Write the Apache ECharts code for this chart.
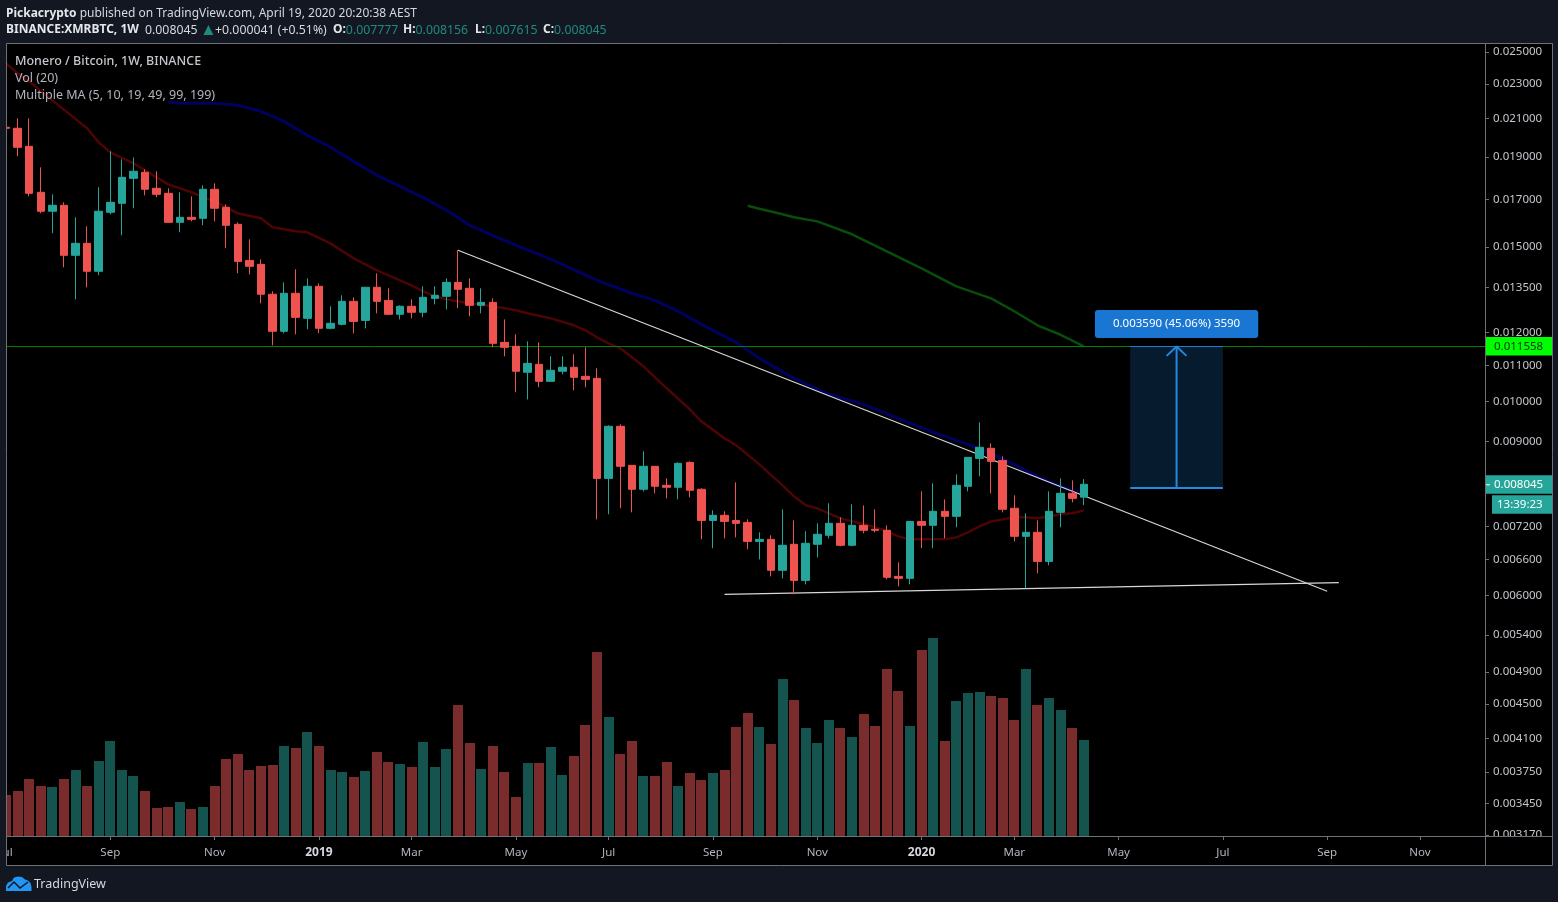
<!DOCTYPE html>
<html>
<head>
<meta charset="utf-8">
<title>XMRBTC 1W</title>
<style>
html, body { margin: 0; padding: 0; background: #131722; }
#main { width: 1558px; height: 902px; }
</style>
<script src="https://cdn.jsdelivr.net/npm/echarts@6/dist/echarts.min.js"></script>
</head>
<body>
<div id="main"></div>
<script>
// weekly bars, first one is cut off by the left edge of the pane
var firstBar = '2018-07-02';

var opens = [
  0.020528,0.020474,0.019531,0.017317,0.016478,0.016737,0.014682,0.015150,0.014080,0.016435,
  0.016823,0.017960,0.018248,0.017499,0.017271,0.016006,0.016219,0.016175,0.017454,0.016651,
  0.015924,0.014487,0.014339,0.013256,0.012029,0.013291,0.012445,0.013536,0.012124,0.012251,
  0.013012,0.012378,0.013501,0.013045,0.012578,0.012845,0.012645,0.013115,0.013186,0.013677,
  0.013466,0.012878,0.012978,0.011685,0.011564,0.010802,0.011030,0.010547,0.010831,0.010945,
  0.010688,0.010631,0.008171,0.009372,0.008457,0.007940,0.008435,0.008023,0.007982,0.008523,
  0.007940,0.007314,0.007413,0.007314,0.007276,0.006920,0.006957,0.006411,0.006867,0.006242,
  0.006867,0.007032,0.007258,0.006849,0.007220,0.007145,0.007126,0.006309,0.006276,0.007295,
  0.007220,0.007492,0.007393,0.008003,0.008613,0.008845,0.008567,0.007552,0.007013,0.007088,
  0.006564,0.007472,0.007856,0.007777
];
var closes = [
  0.020474,0.019481,0.017271,0.016478,0.016737,0.014682,0.015150,0.014080,0.016478,0.016867,
  0.018008,0.018296,0.017454,0.017226,0.016006,0.016219,0.016132,0.017454,0.016607,0.015883,
  0.014450,0.014265,0.013256,0.012029,0.013291,0.012477,0.013536,0.012124,0.012283,0.013012,
  0.012346,0.013501,0.013012,0.012578,0.012845,0.012645,0.013150,0.013221,0.013677,0.013431,
  0.012878,0.012978,0.011655,0.011534,0.010831,0.011058,0.010547,0.010859,0.010945,0.010660,
  0.010603,0.008171,0.009372,0.008435,0.007940,0.008435,0.008003,0.007982,0.008501,0.007919,
  0.007314,0.007413,0.007295,0.007258,0.006920,0.006957,0.006411,0.006849,0.006242,0.006885,
  0.007051,0.007258,0.006849,0.007220,0.007126,0.007126,0.006293,0.006276,0.007295,0.007220,
  0.007492,0.007393,0.008023,0.008636,0.008868,0.008545,0.007532,0.007013,0.007088,0.006564,
  0.007492,0.007856,0.007752,0.008045
];
var lows = [
  0.020200,0.019025,0.017134,0.016391,0.015555,0.014228,0.013080,0.013501,0.013932,0.016348,
  0.015473,0.016607,0.017180,0.017089,0.016006,0.015596,0.016047,0.015883,0.016047,0.014955,
  0.014006,0.013969,0.012945,0.011595,0.011966,0.011935,0.012093,0.011966,0.012093,0.012220,
  0.011966,0.012124,0.012611,0.012578,0.012411,0.012445,0.012477,0.012911,0.012744,0.012778,
  0.012511,0.012611,0.011534,0.011264,0.010249,0.010059,0.010384,0.010547,0.010745,0.010303,
  0.010384,0.007334,0.007433,0.007552,0.007472,0.007898,0.007856,0.007752,0.007731,0.007773,
  0.006957,0.006796,0.006976,0.006994,0.006778,0.006599,0.006309,0.006276,0.006017,0.006178,
  0.006634,0.006976,0.006831,0.006831,0.007070,0.007088,0.006259,0.006145,0.006178,0.006796,
  0.006796,0.006976,0.007182,0.007898,0.008216,0.007856,0.007472,0.006920,0.006113,0.006360,
  0.006496,0.007182,0.007670,0.007615
];
var highs = [
  0.020800,0.021013,0.021013,0.018488,0.017226,0.016867,0.016219,0.015842,0.017545,0.019278,
  0.018874,0.018976,0.018392,0.018296,0.017499,0.017317,0.017134,0.017636,0.017727,0.016780,
  0.016006,0.015309,0.014526,0.013361,0.013677,0.014154,0.013821,0.013642,0.012845,0.013221,
  0.013150,0.013501,0.014006,0.013466,0.012878,0.013080,0.013536,0.013536,0.013821,0.014877,
  0.013821,0.013466,0.013115,0.012411,0.011935,0.011715,0.011685,0.011264,0.011264,0.011325,
  0.011534,0.010916,0.009396,0.009420,0.008457,0.008776,0.008435,0.008171,0.008523,0.008545,
  0.007961,0.007512,0.007492,0.008086,0.007334,0.007088,0.007032,0.007532,0.007314,0.007107,
  0.007258,0.007651,0.007374,0.007631,0.007611,0.007532,0.007220,0.006547,0.007295,0.007898,
  0.008065,0.007731,0.008259,0.008636,0.009469,0.008961,0.008659,0.007815,0.007452,0.007314,
  0.007898,0.008171,0.008128,0.008156
];
// no volume scale on the chart, so these are relative
var volumes = [
  410,450,570,500,490,570,660,500,750,950,
  660,600,450,280,290,340,270,290,500,770,
  820,660,700,710,900,880,1040,900,660,640,
  590,650,840,740,720,690,940,690,870,1310,
  930,670,900,640,390,730,730,890,610,800,
  1110,1840,1190,820,950,600,600,740,500,630,
  560,630,660,1090,1230,1090,920,1570,1360,1080,
  930,1160,1080,990,1220,1100,1670,1450,1100,1860,
  1980,950,1350,1430,1440,1400,1380,1160,1670,1310,
  1380,1260,1080,960
];

var ma19Bars = [0,1,2,4,7,8,9,11,13,14,16,18,20,22,23,25,26,28,30,32,34,35,36,37,38,39,40,42,44,45,47,49,50,51,52,53,55,57,59,60,62,63,65,67,68,69,70,72,74,75,76,77,78,81,82,83,84,85,86,87,88,89,90,91,92,93];
var ma19Values = [
  0.024260,0.023634,0.023145,0.022023,0.020474,0.019734,0.019227,0.018680,0.018008,0.017682,0.017317,
  0.016910,0.016391,0.016175,0.015801,0.015637,0.015596,0.015150,0.014565,0.014117,0.013747,0.013571,
  0.013361,0.013186,0.013080,0.013012,0.012945,0.012845,0.012712,0.012611,0.012445,0.012220,0.012061,
  0.011840,0.011655,0.011504,0.010973,0.010357,0.009801,0.009494,0.009079,0.008915,0.008479,0.008023,
  0.007794,0.007611,0.007552,0.007354,0.007239,0.007182,0.007107,0.007013,0.006957,0.006957,0.006994,
  0.007088,0.007201,0.007295,0.007334,0.007374,0.007374,0.007354,0.007393,0.007433,0.007452,0.007512
];
var ma99Bars = [14,15,18,20,22,24,26,28,30,32,34,36,38,40,42,44,46,48,51,54,56,58,60,63,65,68,71,74,77,80,83,85,87,89,91,93];
var ma99Values = [
  0.021911,0.021855,0.021855,0.021743,0.021406,0.020848,0.020101,0.019481,0.018776,0.018104,0.017590,
  0.017089,0.016521,0.015883,0.015473,0.015072,0.014721,0.014339,0.013747,0.013291,0.013045,0.012678,
  0.012251,0.011685,0.011204,0.010631,0.010195,0.009929,0.009569,0.009225,0.008938,0.008729,0.008479,
  0.008216,0.008003,0.007835
];
var ma199Bars = [64,65,67,68,70,73,76,79,82,85,87,89,91,93];
var ma199Values = [
  0.016715,0.016586,0.016348,0.016219,0.016047,0.015514,0.014838,0.014191,0.013536,0.013115,0.012678,
  0.012220,0.011920,0.011564
];

// drawings
var trendDown = [['2019-04-01', 0.014877], ['2020-09-07', 0.006065]];
var trendFlat = [['2019-09-09', 0.006017], ['2020-09-14', 0.006205]];
var horizontalLevel = 0.011558;
var lastPrice = 0.008045;
var countdown = '13:39:23';
var targetFrom = '2020-05-11', targetTo = '2020-07-06', targetMid = '2020-06-08';
var targetLow = 0.007968, targetHigh = 0.011558;
var arrowHead = [['2020-06-02', 0.011278], ['2020-06-08', 0.011558], ['2020-06-14', 0.011278]];
var targetLabel = '0.003590 (45.06%) 3590';
var targetLabelPrice = 0.012261;

// axes
var priceTicks = [0.025,0.023,0.021,0.019,0.017,0.015,0.0135,0.012,0.011,0.010,0.009,0.0072,0.0066,0.006,0.0054,0.0049,0.0045,0.0041,0.00375,0.00345,0.00317];
var timeTicks = ['2018-07-02','2018-09-03','2018-11-05','2019-01-07','2019-03-04','2019-05-06','2019-07-01','2019-09-02','2019-11-04','2020-01-06','2020-03-02','2020-05-04','2020-07-06','2020-09-07','2020-11-02'];
var timeLabels = ['Jul','Sep','Nov','2019','Mar','May','Jul','Sep','Nov','2020','Mar','May','Jul','Sep','Nov'];

// header, second line: [text, left, top]
var quoteParts = [
    ['{b|BINANCE:XMRBTC, 1W}', 6, 24],
    ['0.008045', 145, 24],
    ['{a|▲}', 200, 22],
    ['+0.000041 (+0.51%)', 215, 24],
    ['{b|O:}{t|0.007777}', 333, 24],
    ['{b|H:}{t|0.008156}', 403, 24],
    ['{b|L:}{t|0.007615}', 475, 24],
    ['{b|C:}{t|0.008045}', 543, 24]
];

var WEEK = 7 * 24 * 3600 * 1000;
// the price scale is log(price + this), same as the original chart
var LOG_SHIFT = 0.0001;
var FONT = '"Noto Sans", sans-serif';

function shifted(v) { return v + LOG_SHIFT; }
function day(s) { return Date.parse(s); }
function barTime(i) { return day(firstBar) + i * WEEK; }
function pairs(points) {
    return points.map(function (p) { return [day(p[0]), shifted(p[1])]; });
}
function maLine(bars, values) {
    return bars.map(function (b, k) { return [barTime(b), shifted(values[k])]; });
}

var candleData = opens.map(function (o, i) {
    return [barTime(i), shifted(o), shifted(closes[i]), shifted(lows[i]), shifted(highs[i])];
});
var volumeData = volumes.map(function (v, i) {
    return [barTime(i), v, closes[i] >= opens[i] ? 1 : 0];
});

function plainLine(name, data, color, width) {
    return {
        name: name, type: 'line', data: data, symbol: 'none', silent: true, z: 3,
        lineStyle: { color: color, width: width }
    };
}

// plain bar series squeeze a value axis to fit their width, so volume is custom
function renderVolume(params, api) {
    var top = api.coord([api.value(0), api.value(1)]);
    var bottom = api.coord([api.value(0), 0]);
    var rect = echarts.graphic.clipRectByRect(
        { x: Math.round(top[0] - 5), y: top[1], width: 10, height: bottom[1] - top[1] },
        { x: params.coordSys.x, y: params.coordSys.y, width: params.coordSys.width, height: params.coordSys.height }
    );
    return rect && {
        type: 'rect', shape: rect,
        style: { fill: api.value(2) ? '#15544e' : '#7a2b2b' }
    };
}

var xMin = day(firstBar), xMax = day('2020-12-11T07:00:00Z');
var timeTickValues = timeTicks.map(day);

var quoteStyle = {
    color: '#d6d8de', fontSize: 12.3, fontWeight: 'normal', fontFamily: FONT,
    rich: {
        b: { color: '#e4e6eb', fontSize: 12, fontWeight: 'bold', fontFamily: FONT },
        t: { color: '#1f8b80', fontSize: 12.3, fontFamily: FONT },
        a: { color: '#1f8b80', fontSize: 17, fontFamily: FONT }
    }
};

var titles = [
    {
        left: 6, top: 8, padding: 0,
        text: '{b|Pickacrypto} published on TradingView.com, April 19, 2020 20:20:38 AEST',
        textStyle: {
            color: '#d6d8de', fontSize: 12, fontWeight: 'normal', fontFamily: FONT,
            rich: { b: { color: '#e4e6eb', fontSize: 12, fontWeight: 'bold', fontFamily: FONT } }
        }
    },
    {
        left: 15, top: 55, padding: 0, text: 'Monero / Bitcoin, 1W, BINANCE',
        textStyle: { color: '#c4c6cc', fontSize: 12.5, fontWeight: 500, fontFamily: FONT }
    },
    {
        left: 15, top: 72, padding: 0, text: 'Vol (20)',
        textStyle: { color: '#b2b5be', fontSize: 12.5, fontWeight: 'normal', fontFamily: FONT }
    },
    {
        left: 15, top: 89, padding: 0, text: 'Multiple MA (5, 10, 19, 49, 99, 199)',
        textStyle: { color: '#b2b5be', fontSize: 12.5, fontWeight: 'normal', fontFamily: FONT }
    },
    {
        left: 34, top: 878, padding: 0, text: 'TradingView',
        textStyle: { color: '#d6d8de', fontSize: 12.5, fontWeight: 'normal', fontFamily: FONT }
    }
].concat(quoteParts.map(function (p) {
    return { left: p[1], top: p[2], padding: 0, text: p[0], textStyle: quoteStyle };
}));

var option = {
    animation: false,
    backgroundColor: '#131722',
    textStyle: { fontFamily: FONT },
    title: titles,
    grid: {
        left: 6, right: 73, top: 44, bottom: 66, outerBoundsMode: 'none',
        backgroundColor: '#000000', show: true, borderWidth: 0
    },
    xAxis: {
        type: 'value', min: xMin, max: xMax,
        splitLine: { show: false },
        axisLine: { lineStyle: { color: '#6f7178' } },
        axisTick: { length: 4, lineStyle: { color: '#6f7178' }, customValues: timeTickValues },
        axisLabel: {
            customValues: timeTickValues,
            color: '#b2b5be', fontSize: 11.5, fontFamily: FONT, margin: 11, hideOverlap: false,
            formatter: function (v) {
                var s = timeLabels[timeTickValues.indexOf(v)];
                return s.length === 4 ? '{y|' + s + '}' : s;
            },
            rich: { y: { color: '#d6d8de', fontSize: 12, fontWeight: 'bold', fontFamily: FONT } }
        }
    },
    yAxis: [
        {
            type: 'log', position: 'right',
            min: 0.0032607, max: 0.025621,
            splitLine: { show: false },
            axisLine: { show: true, lineStyle: { color: '#6f7178' } },
            axisTick: { show: true, length: 4, lineStyle: { color: '#6f7178' }, customValues: priceTicks.map(shifted) },
            axisLabel: {
                customValues: priceTicks.map(shifted),
                color: '#c4c6cc', fontSize: 11.5, fontFamily: FONT, margin: 8, hideOverlap: false,
                padding: [2, 0, 0, 0],
                formatter: function (v) { return (v - LOG_SHIFT).toFixed(6); }
            }
        },
        { type: 'value', min: 0, max: 7920, show: false }
    ],
    series: [
        {
            name: 'Vol', type: 'custom', xAxisIndex: 0, yAxisIndex: 1, data: volumeData, silent: true, z: 1,
            encode: { x: 0, y: 1 }, renderItem: renderVolume
        },
        plainLine('MA 19', maLine(ma19Bars, ma19Values), '#4c0404', 2.5),
        plainLine('MA 99', maLine(ma99Bars, ma99Values), '#00005f', 3),
        plainLine('MA 199', maLine(ma199Bars, ma199Values), '#0a4d0a', 2.5),
        plainLine('Level', [[xMin, shifted(horizontalLevel)], [xMax, shifted(horizontalLevel)]], '#008000', 1),
        plainLine('Trend down', pairs(trendDown), '#d8d8d8', 1.2),
        plainLine('Trend flat', pairs(trendFlat), '#d8d8d8', 1.2),
        {
            name: 'Target', type: 'line', data: [], silent: true, z: 2,
            markArea: {
                silent: true,
                itemStyle: { color: '#061b2e', opacity: 1 },
                data: [[
                    { coord: [day(targetFrom), shifted(targetHigh)] },
                    { coord: [day(targetTo), shifted(targetLow)] }
                ]]
            }
        },
        plainLine('Target top', pairs([[targetFrom, targetHigh], [targetTo, targetHigh]]), '#1f7fd6', 1),
        plainLine('Target bottom', pairs([[targetFrom, targetLow], [targetTo, targetLow]]), '#2489e0', 2),
        plainLine('Target stem', pairs([[targetMid, targetLow], [targetMid, targetHigh]]), '#2489e0', 2),
        plainLine('Target head', pairs(arrowHead), '#2489e0', 2),
        {
            name: 'Target label', type: 'scatter', symbolSize: 0, silent: true, z: 6,
            data: [[day(targetMid), shifted(targetLabelPrice)]],
            itemStyle: { opacity: 1 },
            label: {
                show: true, position: 'inside', formatter: targetLabel, opacity: 1,
                color: '#ffffff', fontSize: 11.5, fontFamily: FONT,
                backgroundColor: '#1976d2', borderRadius: 3, padding: [8, 18, 8, 18]
            }
        },
        {
            name: 'XMRBTC', type: 'candlestick', barWidth: 8, data: candleData, silent: true, z: 5,
            encode: { x: 0, y: [1, 2, 3, 4] },
            itemStyle: {
                color: '#26a69a', color0: '#ef5350',
                borderColor: '#26a69a', borderColor0: '#ef5350', borderWidth: 1
            }
        }
    ]
};

var chart = echarts.init(document.getElementById('main'));
chart.setOption(option);

// frame, price tags and logo go on after the scale exists
function priceY(v) { return chart.convertToPixel({ yAxisIndex: 0 }, shifted(v)); }
function tag(x, y, w, h, fill, text, color, textX) {
    return [
        { type: 'rect', z: 110, shape: { x: x, y: y, width: w, height: h }, style: { fill: fill } },
        {
            type: 'text', z: 111, x: textX, y: y + h / 2 + 0.5,
            style: { text: text, fill: color, font: '11.5px ' + FONT, verticalAlign: 'middle' }
        }
    ];
}
var levelY = priceY(horizontalLevel), lastY = priceY(lastPrice);
var frameColor = '#6f7178';
var elements = [
    // hides what sticks out of the pane
    { type: 'rect', z: 100, shape: { x: 0, y: 43, width: 6, height: 822 }, style: { fill: '#131722' } },
    { type: 'rect', z: 100, shape: { x: 1486, y: 837, width: 66, height: 28 }, style: { fill: '#000000' } },
    { type: 'rect', z: -5, shape: { x: 6, y: 43, width: 1546, height: 822 }, style: { fill: '#000000' } },
    { type: 'rect', z: 105, shape: { x: 6.5, y: 43.5, width: 1546, height: 822 }, style: { fill: 'none', stroke: frameColor, lineWidth: 1 } },
    { type: 'line', z: 105, shape: { x1: 6, y1: 836.5, x2: 1552, y2: 836.5 }, style: { stroke: frameColor, lineWidth: 1 } },
    { type: 'line', z: 105, shape: { x1: 1485.5, y1: 43, x2: 1485.5, y2: 865 }, style: { stroke: frameColor, lineWidth: 1 } },
    // logo
    {
        type: 'polygon', z: 110,
        shape: { points: [[6, 891], [6, 886], [8, 882.5], [12, 881], [14, 877.5], [18, 876.5], [22, 877], [25, 879.5], [28, 880.5], [30.5, 883], [31.5, 887], [31.5, 891]] },
        style: { fill: '#2196f3' }
    },
    {
        type: 'polyline', z: 111,
        shape: { points: [[8, 888], [14, 882], [20, 888], [28, 882]] },
        style: { fill: 'none', stroke: '#131722', lineWidth: 1.5 }
    }
];
elements = elements.concat(
    tag(1486, levelY - 9.5, 66, 18.5, '#00ff00', horizontalLevel.toFixed(6), '#063306', 1494),
    tag(1486, lastY - 9, 66, 18.5, '#26a69a', lastPrice.toFixed(6), '#ffffff', 1494),
    tag(1492, lastY + 11, 60, 18.5, '#26a69a', countdown, '#ffffff', 1497),
    [{ type: 'line', z: 111, shape: { x1: 1486, y1: lastY + 0.5, x2: 1490, y2: lastY + 0.5 }, style: { stroke: '#ffffff', lineWidth: 1 } }]
);
chart.setOption({ graphic: { elements: elements } });
</script>
</body>
</html>
